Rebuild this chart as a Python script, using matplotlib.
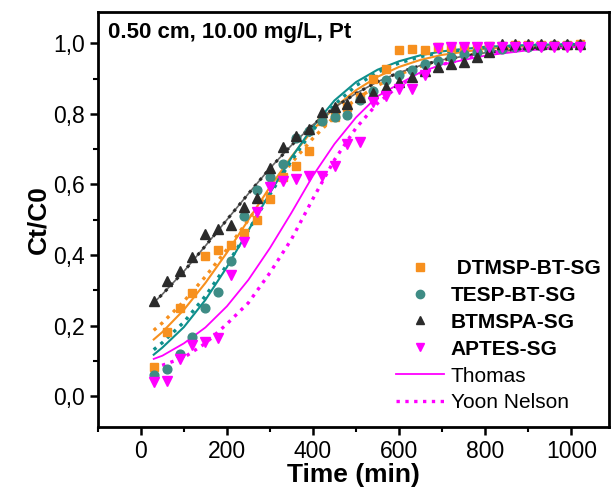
import numpy as np
import matplotlib
matplotlib.use("Agg")
import matplotlib.pyplot as plt
from matplotlib.lines import Line2D
from matplotlib.ticker import MultipleLocator, FuncFormatter

plt.rcParams['font.family'] = ['Liberation Sans', 'DejaVu Sans']

# measured breakthrough points
t_data = [30, 60, 90, 120, 150, 180, 210, 240, 270, 300, 330, 360, 390, 420, 450, 480, 510,
          540, 570, 600, 630, 660, 690, 720, 750, 780, 810, 840, 870, 900, 930, 960, 990, 1020]
dtmsp = [0.082, 0.182, 0.251, 0.292, 0.397, 0.415, 0.428, 0.463, 0.499, 0.56, 0.62, 0.651,
         0.694, 0.78, 0.79, 0.82, 0.847, 0.90, 0.927, 0.98, 0.985, 0.98, 0.99, 0.99, 0.99,
         0.99, 0.992, 0.993, 0.994, 0.995, 0.995, 0.996, 0.996, 0.997]
tesp = [0.061, 0.078, 0.12, 0.168, 0.251, 0.296, 0.382, 0.511, 0.585, 0.62, 0.659, 0.733,
        0.751, 0.78, 0.79, 0.796, 0.84, 0.866, 0.896, 0.91, 0.925, 0.94, 0.95, 0.96, 0.97,
        0.975, 0.98, 0.985, 0.988, 0.99, 0.992, 0.994, 0.995, 0.996]
btmspa = [0.27, 0.326, 0.356, 0.396, 0.459, 0.473, 0.485, 0.537, 0.561, 0.647, 0.707, 0.737,
          0.756, 0.806, 0.818, 0.828, 0.847, 0.86, 0.876, 0.89, 0.904, 0.92, 0.933, 0.942,
          0.947, 0.96, 0.975, 0.997, 0.997, 0.997, 0.997, 0.997, 0.997, 0.997]
aptes = [0.042, 0.044, 0.106, 0.144, 0.153, 0.166, 0.344, 0.437, 0.523, 0.594, 0.61, 0.616,
         0.625, 0.625, 0.651, 0.714, 0.72, 0.833, 0.851, 0.87, 0.87, 0.909, 0.987, 0.99,
         0.99, 0.99, 0.99, 0.99, 0.99, 0.99, 0.99, 0.99, 0.99, 0.99]

# model curves
t_fit = [30, 50, 100, 150, 200, 250, 300, 350, 400, 450, 500, 550, 600, 650, 700, 800, 900, 1020]
dtmsp_th = [0.161, 0.182, 0.245, 0.321, 0.407, 0.5, 0.593, 0.679, 0.755, 0.818, 0.867, 0.905,
            0.933, 0.953, 0.967, 0.984, 0.992, 0.997]
dtmsp_yn = [0.187, 0.208, 0.269, 0.339, 0.416, 0.5, 0.584, 0.661, 0.731, 0.792, 0.842, 0.88,
            0.912, 0.935, 0.952, 0.975, 0.987, 0.994]
tesp_th = [0.118, 0.138, 0.196, 0.273, 0.366, 0.47, 0.576, 0.676, 0.764, 0.838, 0.89, 0.925,
           0.949, 0.966, 0.977, 0.99, 0.995, 0.998]
tesp_yn = [0.132, 0.152, 0.21, 0.284, 0.372, 0.47, 0.572, 0.668, 0.754, 0.826, 0.88, 0.918,
           0.944, 0.962, 0.975, 0.988, 0.994, 0.997]
btmspa_th = [0.265, 0.289, 0.354, 0.426, 0.5, 0.574, 0.646, 0.711, 0.769, 0.818, 0.858, 0.891,
             0.917, 0.937, 0.953, 0.973, 0.985, 0.992]
aptes_th = [0.106, 0.115, 0.15, 0.195, 0.255, 0.33, 0.42, 0.52, 0.625, 0.715, 0.79, 0.85,
            0.885, 0.918, 0.94, 0.965, 0.98, 0.99]
aptes_yn = [0.08, 0.088, 0.11, 0.15, 0.205, 0.265, 0.35, 0.445, 0.56, 0.67, 0.76, 0.83,
            0.88, 0.913, 0.94, 0.97, 0.985, 0.993]

c_or = '#F7901E'
c_te = '#3E8C85'
c_te_line = '#0E8F8C'
c_bk = '#2B2B2B'
c_mg = '#FF00FF'

fig = plt.figure(figsize=(6.11, 4.92), dpi=100)
ax = fig.add_axes([0.160, 0.132, 0.837, 0.844])

# fits
ax.plot(t_fit, dtmsp_th, '-', color=c_or, lw=1.5)
ax.plot(t_fit, dtmsp_yn, ':', color=c_or, lw=2.4)
ax.plot(t_fit, tesp_th, '-', color=c_te_line, lw=1.5)
ax.plot(t_fit, tesp_yn, ':', color=c_te_line, lw=2.4)
ax.plot(t_fit, btmspa_th, '-', color='#666666', lw=1.2)
ax.plot(t_fit, btmspa_th, ':', color=c_bk, lw=2.2)
ax.plot(t_fit, aptes_th, '-', color=c_mg, lw=1.3)
ax.plot(t_fit, aptes_yn, ':', color=c_mg, lw=2.4)

# data
ax.plot(t_data, dtmsp, 's', color=c_or, ms=6.3, ls='none')
ax.plot(t_data, tesp, 'o', color=c_te, ms=6.3, ls='none')
ax.plot(t_data, btmspa, '^', color=c_bk, ms=7.2, ls='none')
ax.plot(t_data, aptes, 'v', color=c_mg, ms=7.2, ls='none')

ax.set_xlim(-100, 1088)
ax.set_ylim(-0.087, 1.089)
ax.xaxis.set_major_locator(MultipleLocator(200))
ax.xaxis.set_minor_locator(MultipleLocator(100))
ax.yaxis.set_major_locator(MultipleLocator(0.2))
ax.yaxis.set_minor_locator(MultipleLocator(0.1))
ax.yaxis.set_major_formatter(FuncFormatter(lambda v, p: f"{v:.1f}".replace('.', ',')))
ax.tick_params(which='major', direction='out', length=6, width=1.8, labelsize=16.5,
               top=False, right=False)
ax.tick_params(which='minor', direction='out', length=3.5, width=1.5, top=False, right=False)
for s in ax.spines.values():
    s.set_linewidth(2)

ax.set_xlabel('Time (min)', fontsize=19, fontweight='bold', labelpad=0)
ax.set_ylabel('Ct/C0', fontsize=19, fontweight='bold', labelpad=2)
ax.text(0.02, 0.975, '0.50 cm, 10.00 mg/L, Pt', transform=ax.transAxes, fontsize=16,
        fontweight='bold', va='top', ha='left')

handles = [
    Line2D([], [], marker='s', color=c_or, ls='none', ms=6),
    Line2D([], [], marker='o', color=c_te, ls='none', ms=6),
    Line2D([], [], marker='^', color=c_bk, ls='none', ms=6),
    Line2D([], [], marker='v', color=c_mg, ls='none', ms=6),
    Line2D([], [], color=c_mg, lw=1.3),
    Line2D([], [], color=c_mg, lw=2.4, ls=':'),
]
labels = [' DTMSP-BT-SG', 'TESP-BT-SG', 'BTMSPA-SG', 'APTES-SG', 'Thomas', 'Yoon Nelson']
leg = ax.legend(handles, labels, loc='lower right', frameon=False, fontsize=15,
                handlelength=2.3, handletextpad=0.35, labelspacing=0.38,
                borderaxespad=0.3, bbox_to_anchor=(1.012, 0.0))
for txt in leg.get_texts()[:4]:
    txt.set_fontweight('bold')

fig.savefig('out.png', dpi=100)
